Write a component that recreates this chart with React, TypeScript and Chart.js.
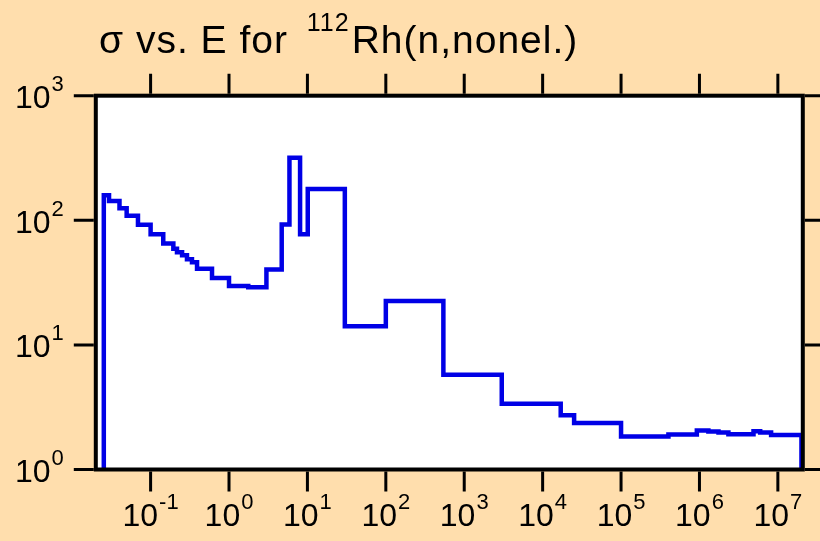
import React, { useEffect, useRef } from 'react';
import { Chart, registerables } from 'chart.js';

Chart.register(...registerables);

// Bin lower edges (eV) and cross sections (b) of the step curve
const energyEdges = [
  0.0253, 0.0295, 0.0401, 0.0495, 0.069, 0.1, 0.145, 0.195, 0.217, 0.252,
  0.291, 0.337, 0.391, 0.607, 1.0, 1.76, 3.0, 4.7, 5.9, 8.06,
  10.1, 30, 100, 542, 3010, 17000, 25200, 1.0e5, 4.02e5, 9.26e5,
  1.3e6, 1.75e6, 2.34e6, 4.89e6, 5.95e6, 8.2e6,
];
const sigmaValues = [
  159, 143, 125, 109, 92, 77.4, 65, 59, 55.5, 52.5,
  48.7, 46, 40.8, 34.4, 29.7, 29, 40.3, 92.7, 318, 77.4,
  178, 14.1, 22.5, 5.77, 3.37, 2.72, 2.36, 1.84, 1.91, 2.06,
  2.02, 1.98, 1.92, 2.03, 1.98, 1.89,
];
const energyEnd = 2e7;

const xDecades = [-1, 0, 1, 2, 3, 4, 5, 6, 7];
const yDecades = [0, 1, 2, 3];
const X_MIN = 0.02;
const X_MAX = 2.08e7;
const Y_MIN = 1;
const Y_MAX = 1000;

const TITLE_PRE = 'σ vs. E for';
const TITLE_SUP = '112';
const TITLE_POST = 'Rh(n,nonel.)';

const BG = '#FFDEAD';
const LINE = 'rgb(0,0,230)';
const FONT_FAMILY = '"Liberation Sans", Arial, sans-serif';
const MAIN_FONT = `32px ${FONT_FAMILY}`;
const SUP_FONT = `22px ${FONT_FAMILY}`;

function drawPower(ctx: CanvasRenderingContext2D, exp: string, x: number, y: number, align: 'center' | 'right') {
  ctx.font = MAIN_FONT;
  const wb = ctx.measureText('10').width;
  ctx.font = SUP_FONT;
  const we = ctx.measureText(exp).width;
  const total = wb + 1 + we;
  const x0 = align === 'center' ? x - total / 2 : x - total;
  ctx.textAlign = 'left';
  ctx.textBaseline = 'alphabetic';
  ctx.font = MAIN_FONT;
  ctx.fillText('10', x0, y);
  ctx.font = SUP_FONT;
  ctx.fillText(exp, x0 + wb + 1, y - 17);
}

const framePlugin = {
  id: 'frame',
  beforeDraw(chart: any) {
    const { ctx, chartArea: a } = chart;
    ctx.save();
    ctx.fillStyle = BG;
    ctx.fillRect(0, 0, chart.width, chart.height);
    ctx.fillStyle = '#ffffff';
    ctx.fillRect(a.left, a.top, a.right - a.left, a.bottom - a.top);
    ctx.restore();
  },
  afterDatasetsDraw(chart: any) {
    const { ctx, chartArea: a } = chart;
    const xs = chart.scales.x;
    const ys = chart.scales.y;
    ctx.save();
    ctx.strokeStyle = '#000';
    ctx.fillStyle = '#000';
    // border
    ctx.lineWidth = 4;
    ctx.strokeRect(a.left, a.top, a.right - a.left, a.bottom - a.top);
    // ticks
    ctx.lineWidth = 3;
    ctx.beginPath();
    xDecades.forEach((d) => {
      const px = xs.getPixelForValue(Math.pow(10, d));
      ctx.moveTo(px, a.bottom + 2);
      ctx.lineTo(px, a.bottom + 22);
      ctx.moveTo(px, a.top - 2);
      ctx.lineTo(px, a.top - 22);
    });
    yDecades.forEach((d) => {
      const py = ys.getPixelForValue(Math.pow(10, d));
      ctx.moveTo(a.left - 2, py);
      ctx.lineTo(a.left - 22, py);
      ctx.moveTo(a.right + 2, py);
      ctx.lineTo(a.right + 22, py);
    });
    ctx.stroke();
    // tick labels
    xDecades.forEach((d) => {
      const px = xs.getPixelForValue(Math.pow(10, d));
      drawPower(ctx, String(d), px, a.bottom + 56, 'center');
    });
    yDecades.forEach((d) => {
      const py = ys.getPixelForValue(Math.pow(10, d));
      drawPower(ctx, String(d), a.left - 32, py + 12.5, 'right');
    });
    // title
    const anyCtx = ctx as any;
    ctx.textAlign = 'left';
    ctx.textBaseline = 'alphabetic';
    let tx = 99;
    anyCtx.letterSpacing = '1px';
    ctx.font = `39px ${FONT_FAMILY}`;
    ctx.fillText(TITLE_PRE, tx, 52.5);
    tx += ctx.measureText(TITLE_PRE + ' ').width + 7;
    anyCtx.letterSpacing = '1px';
    ctx.font = `25px ${FONT_FAMILY}`;
    ctx.fillText(TITLE_SUP, tx, 31);
    tx += ctx.measureText(TITLE_SUP).width + 2;
    anyCtx.letterSpacing = '1px';
    ctx.font = `39px ${FONT_FAMILY}`;
    ctx.fillText(TITLE_POST, tx, 52.5);
    anyCtx.letterSpacing = '0px';
    ctx.restore();
  },
};

export default function App() {
  const ref = useRef<HTMLCanvasElement>(null);
  useEffect(() => {
    document.body.style.margin = '0';
    const points: { x: number; y: number }[] = [{ x: energyEdges[0], y: Y_MIN }];
    energyEdges.forEach((e, i) => points.push({ x: e, y: sigmaValues[i] }));
    points.push({ x: energyEnd, y: sigmaValues[sigmaValues.length - 1] });
    points.push({ x: energyEnd, y: Y_MIN });

    const chart = new Chart(ref.current!, {
      type: 'line',
      data: {
        datasets: [
          {
            data: points,
            stepped: 'before',
            borderColor: LINE,
            borderWidth: 4.5,
            borderJoinStyle: 'miter',
            borderCapStyle: 'butt',
            pointRadius: 0,
            fill: false,
          },
        ],
      },
      options: {
        responsive: false,
        animation: false,
        devicePixelRatio: 1,
        events: [],
        layout: { padding: { top: 95.7, bottom: 71.5, left: 95.8, right: 17.2 } },
        plugins: { legend: { display: false }, tooltip: { enabled: false }, title: { display: false } },
        scales: {
          x: { type: 'logarithmic', min: X_MIN, max: X_MAX, display: false },
          y: { type: 'logarithmic', min: Y_MIN, max: Y_MAX, display: false },
        },
      },
      plugins: [framePlugin],
    } as any);
    return () => chart.destroy();
  }, []);
  return (
    <div style={{ position: 'absolute', left: 0, top: 0, width: 820, height: 541 }}>
      <canvas ref={ref} width={820} height={541} style={{ display: 'block' }} />
    </div>
  );
}
